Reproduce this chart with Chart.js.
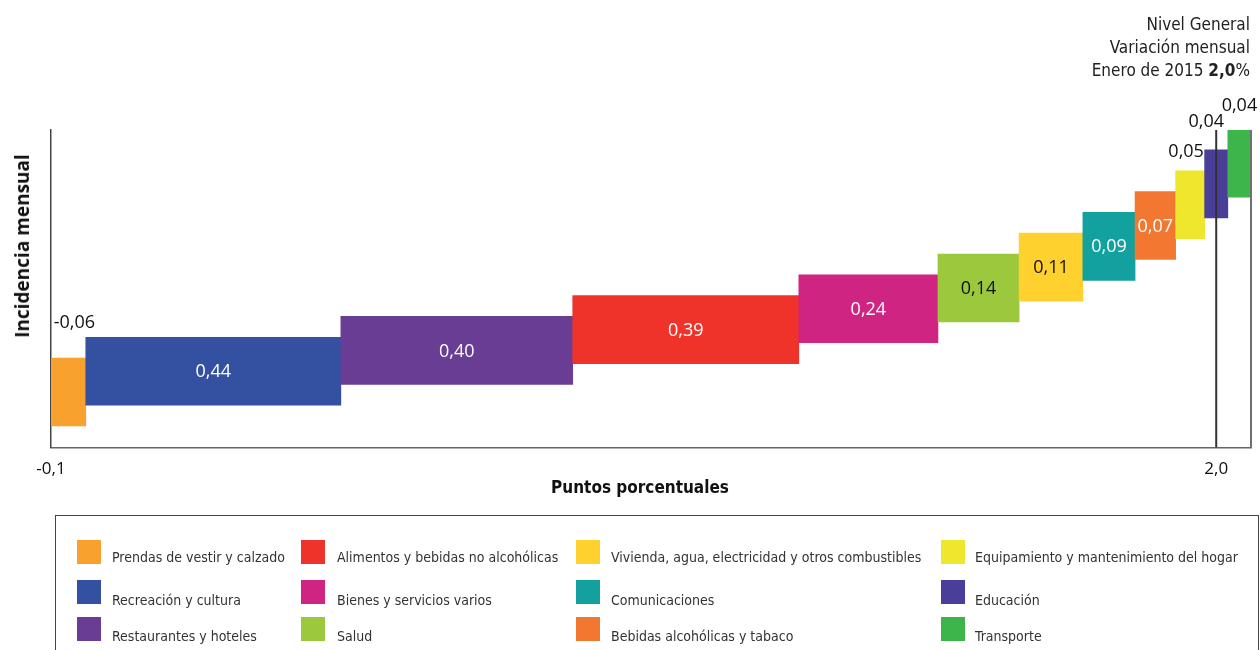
<!DOCTYPE html>
<html lang="es">
<head>
  <meta charset="UTF-8" />
  <title>Incidencia mensual - Enero 2015</title>
  <script src="https://cdn.jsdelivr.net/npm/chart.js"></script>
  <style>
    body {
      margin: 0;
      background: #fff;
      font-family: "Liberation Sans Narrow", "DejaVu Sans Condensed", sans-serif;
      color: #222;
    }
    .wrap {
      position: relative;
      width: 1260px;
      height: 650px;
      overflow: hidden;
    }
    canvas { position: absolute; left: 0; top: 0; }
    .titulo {
      position: absolute;
      right: 10px;
      top: 13px;
      text-align: right;
      font-size: 17px;
      line-height: 23px;
      color: #222;
    }
    .ytitle {
      position: absolute;
      left: 22px;
      top: 246px;
      transform: translate(-50%, -50%) rotate(-90deg);
      font-family: "Open Sans", sans-serif;
      font-weight: bold;
      font-size: 19px;
      white-space: nowrap;
      color: #111;
    }
    .xtitle {
      position: absolute;
      left: 640px;
      top: 487px;
      transform: translate(-50%, -50%);
      font-weight: bold;
      font-size: 17px;
      white-space: nowrap;
      color: #111;
    }
    .leyenda {
      position: absolute;
      left: 55px;
      top: 515px;
      width: 1202px;
      height: 160px;
      border: 1.5px solid #444;
    }
    .sw { position: absolute; width: 24px; height: 24px; }
    .item {
      position: absolute;
      font-size: 14px;
      color: #333;
      white-space: nowrap;
      transform: translateY(-50%);
    }
  </style>
</head>
<body>
  <div class="wrap">
    <canvas id="chart" width="1260" height="650"></canvas>
    <div class="titulo" id="titulo"></div>
    <div class="ytitle">Incidencia mensual</div>
    <div class="xtitle">Puntos porcentuales</div>
    <div class="leyenda"></div>
    <div id="items"></div>
  </div>

  <script>
    const categories = [
      'Prendas de vestir y calzado',
      'Recreación y cultura',
      'Restaurantes y hoteles',
      'Alimentos y bebidas no alcohólicas',
      'Bienes y servicios varios',
      'Salud',
      'Vivienda, agua, electricidad y otros combustibles',
      'Comunicaciones',
      'Bebidas alcohólicas y tabaco',
      'Equipamiento y mantenimiento del hogar',
      'Educación',
      'Transporte'
    ];
    const incidencia = [-0.06, 0.44, 0.40, 0.39, 0.24, 0.14, 0.11, 0.09, 0.07, 0.05, 0.04, 0.04];
    const colors = ['#F9A12E', '#3451A1', '#6A3D95', '#EF332B', '#CF2482', '#9BC83C',
                    '#FED12E', '#12A19F', '#F27831', '#EEE72C', '#4A3F98', '#3DB54A'];
    const xTickLabels = ['-0,1', '2,0'];
    const titleLines = ['Nivel General', 'Variación mensual', 'Enero de 2015 <b>2,0</b>%'];

    // bars laid end to end, each as wide as its incidence
    const ranges = [];
    let acc = 0;
    incidencia.forEach(v => { ranges.push([acc, acc + Math.abs(v)]); acc += Math.abs(v); });
    const positiveSum = incidencia.filter(v => v > 0).reduce((a, b) => a + b, 0);
    const xTickValues = [0, positiveSum];

    document.getElementById('titulo').innerHTML = titleLines.join('<br>');

    // legend, column by column
    const swX = [77, 301, 576, 941], txX = [112, 337, 611, 975];
    const swY = [540, 580, 617], txY = [557, 600, 636];
    const items = document.getElementById('items');
    categories.forEach((c, i) => {
      const col = Math.floor(i / 3), row = i % 3;
      const sw = document.createElement('div');
      sw.className = 'sw';
      sw.style.left = swX[col] + 'px';
      sw.style.top = swY[row] + 'px';
      sw.style.background = colors[i];
      items.appendChild(sw);
      const t = document.createElement('div');
      t.className = 'item';
      t.style.left = txX[col] + 'px';
      t.style.top = txY[row] + 'px';
      t.textContent = c;
      items.appendChild(t);
    });

    function isLight(hex) {
      const r = parseInt(hex.slice(1, 3), 16), g = parseInt(hex.slice(3, 5), 16), b = parseInt(hex.slice(5, 7), 16);
      return 0.299 * r + 0.587 * g + 0.114 * b > 160;
    }

    // hand placement for the labels that sit above narrow bars
    const outsideNudge = { 0: [6, 35], 9: [-4, 19], 10: [-10, 28], 11: [0, 23] };

    const extras = {
      id: 'extras',
      afterDatasetsDraw(chart) {
        const { ctx, chartArea: a, scales: { x } } = chart;
        ctx.save();
        ctx.lineWidth = 2;
        ctx.strokeStyle = '#707070';
        ctx.beginPath();
        ctx.moveTo(a.right, a.top);
        ctx.lineTo(a.right, a.bottom);
        ctx.stroke();
        const xt = x.getPixelForValue(xTickValues[1]);
        ctx.strokeStyle = '#333';
        ctx.beginPath();
        ctx.moveTo(xt, a.top);
        ctx.lineTo(xt, a.bottom);
        ctx.stroke();

        ctx.font = '18px "Open Sans"';
        ctx.textBaseline = 'middle';
        ctx.textAlign = 'center';
        chart.getDatasetMeta(0).data.forEach((bar, i) => {
          const p = bar.getProps(['x', 'y', 'base', 'height'], true);
          const left = Math.min(p.x, p.base), right = Math.max(p.x, p.base);
          const cx = (left + right) / 2;
          const txt = incidencia[i].toFixed(2).replace('.', ',');
          if (right - left >= 38) {
            ctx.fillStyle = isLight(colors[i]) ? '#111' : '#fff';
            ctx.fillText(txt, cx, p.y + 1);
          } else {
            const n = outsideNudge[i] || [0, 22];
            ctx.fillStyle = '#111';
            ctx.fillText(txt, cx + n[0], p.y - p.height / 2 - n[1]);
          }
        });
        ctx.restore();
      }
    };

    new Chart(document.getElementById('chart'), {
      type: 'bar',
      data: {
        datasets: [{
          data: categories.map((c, i) => ({ x: ranges[i], y: i })),
          backgroundColor: colors,
          borderWidth: 0,
          barThickness: 68
        }]
      },
      options: {
        indexAxis: 'y',
        responsive: false,
        animation: false,
        layout: { padding: { left: 43, right: 9, top: 130, bottom: 168 } },
        plugins: { legend: { display: false }, tooltip: { enabled: false } },
        scales: {
          x: {
            type: 'linear',
            min: 0,
            max: acc,
            grid: { display: false },
            border: { color: '#666', width: 1.5 },
            afterBuildTicks: s => { s.ticks = xTickValues.map(v => ({ value: v })); },
            ticks: {
              autoSkip: false,
              maxRotation: 0,
              padding: 3,
              color: '#111',
              font: { family: 'Open Sans', size: 17 },
              callback: (v, i) => xTickLabels[i]
            }
          },
          y: {
            type: 'linear',
            offset: false,
            min: -2.67,
            max: 12.59,
            grid: { display: false },
            ticks: { display: false },
            border: { color: '#444', width: 1.5 }
          }
        }
      },
      plugins: [extras]
    });
  </script>
</body>
</html>
